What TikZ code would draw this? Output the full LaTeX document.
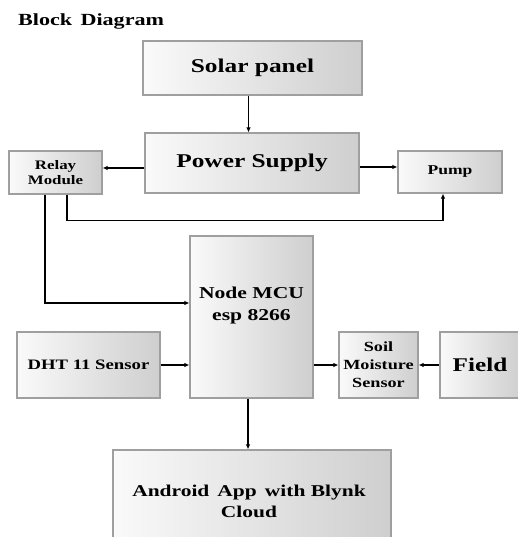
\documentclass[tikz,border=0pt]{standalone}
\usepackage{fontspec}
\setmainfont{Liberation Serif}[FakeStretch=1.3]
\usetikzlibrary{arrows.meta,calc}
\tikzset{
  blk/.style={draw=gray!75, line width=1.2pt, left color=gray!4, right color=gray!38, shading angle=90, inner sep=0pt, align=center, font=\bfseries},
  arr/.style={line width=1.3pt, -{Latex[length=5pt,width=4.5pt]}},
}
\begin{document}
\begin{tikzpicture}[x=1pt,y=-1pt]
\useasboundingbox (0,0) rectangle (517,537);
\node[anchor=west, inner sep=0pt, font=\bfseries\fontsize{17}{19}\selectfont] (title) at (18,21) {Block\, Diagram};
\node[blk, minimum width=219pt, minimum height=54pt, font=\bfseries\fontsize{19.5}{22}\selectfont] (solar) at (252.5,68) {Solar panel};
\node[blk, minimum width=214pt, minimum height=60pt, font=\bfseries\fontsize{19.5}{22}\selectfont] (power) at (252,163) {Power Supply};
\node[blk, minimum width=93pt, minimum height=43pt, font=\bfseries\fontsize{13}{15}\selectfont] (relay) at (55.5,172.5) {Relay\\Module};
\node[blk, minimum width=104pt, minimum height=42pt, font=\bfseries\fontsize{13.5}{15}\selectfont] (pump) at (450,172) {Pump};
\node[blk, minimum width=123pt, minimum height=162pt] (mcu) at (251.5,317) {};
\node[font=\bfseries\fontsize{16.6}{22}\selectfont, align=center] (mcutext) at (251.5,306) {Node MCU\\esp 8266};
\node[blk, minimum width=143pt, minimum height=66pt, font=\bfseries\fontsize{14.4}{16}\selectfont] (dht) at (88.5,365) {DHT 11 Sensor};
\node[blk, minimum width=79pt, minimum height=66pt, font=\bfseries\fontsize{14}{18}\selectfont] (soil) at (378.5,365) {Soil\\Moisture\\Sensor};
\node[blk, minimum width=80pt, minimum height=66pt, font=\bfseries\fontsize{19.4}{22}\selectfont] (field) at (480,365) {Field};
\node[blk, minimum width=278pt, minimum height=95pt] (android) at (252,497.5) {};
\node[font=\bfseries\fontsize{16.5}{21}\selectfont, align=center] (andtext) at (249,501) {Android\, App\, with Blynk\\Cloud};

\draw[arr] ([xshift=-4pt]solar.south) -- ([xshift=-4pt]solar.south |- power.north);
\draw[arr] ([yshift=-5pt]power.west) -- ([yshift=-5pt]power.west -| relay.east);
\draw[arr] ([yshift=-4pt]power.east) -- ([yshift=-4pt]power.east -| pump.west);
\draw[arr] ([xshift=11.5pt]relay.south) -- ++(0,26) -| ([xshift=-7pt]pump.south);
\draw[arr] ([xshift=-10.5pt]relay.south) |- ([yshift=14pt]mcu.west);
\draw[arr] (dht.east) -- (dht.east -| mcu.west);
\draw[arr] (soil.west -| mcu.east) -- (soil.west);
\draw[arr] (field.west) -- (soil.east);
\draw[arr] ([xshift=-3.5pt]mcu.south) -- ([xshift=-3.5pt]mcu.south |- android.north);
\end{tikzpicture}
\end{document}
